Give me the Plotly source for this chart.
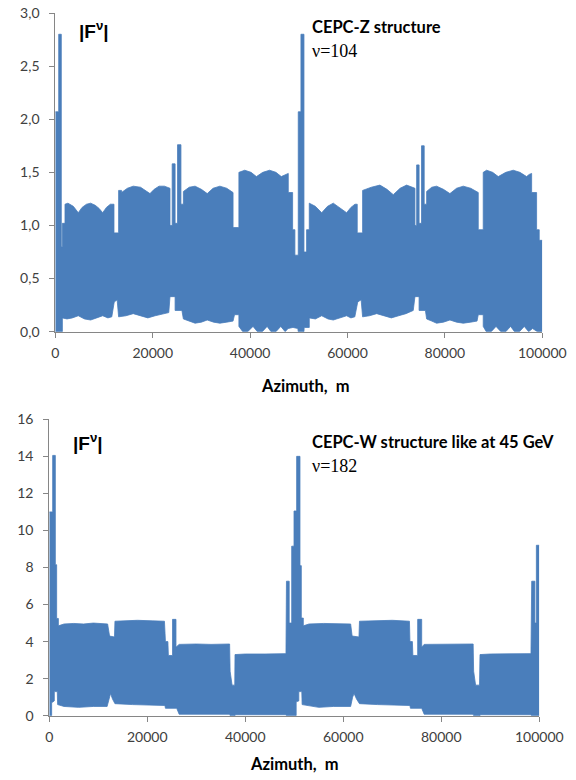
import plotly.graph_objects as go

BLUE = "#4a7ebb"
AXIS = "#868686"

# ---------------- CEPC-Z (top) : envelope of |F^v| ----------------
Z_up_x = [0, 700, 700, 1230, 1230, 1450, 1450, 1990,
          1990, 2600, 3700, 4720, 5500, 6400, 7260, 8200, 9000, 9730, 10500, 11300, 12050,
          12050, 13000,
          13000, 13600, 13600, 14800, 16000, 17500, 18600, 19440, 20300, 21300, 22400, 23550,
          23550, 24000, 24000, 24600, 24600, 25100, 25100, 25800, 25800, 26300,
          26300, 27500, 28700, 30000, 31200, 32400, 33800, 35200, 36500, 36500, 37700,
          37700, 38900, 40200, 41300, 42600, 44000, 45300, 46400, 47200, 47840,
          47840, 48730, 48730, 49200, 49200, 49890, 49890, 50440, 50440, 51060,
          51060, 51600, 51600, 52150,
          52150, 53400, 54700, 55900, 57080, 58400, 59820, 60700, 61530, 62000,
          62000, 63100,
          63100, 64900, 66660, 68100, 69400, 70800, 72140, 73850,
          73850, 74200, 74200, 74700, 74700, 75200, 75200, 75750, 75750, 76250,
          76250, 77300, 78300, 79700, 81030, 82400, 83770, 85300, 86850, 86850, 87870,
          87870, 88570, 89800, 90960, 92500, 94030, 95400, 96780, 97300, 97810,
          97810, 98830, 98830, 99370, 99370, 100000]
Z_up_y = [2.07, 2.07, 2.80, 2.80, 0.80, 0.80, 1.02, 1.02,
          1.20, 1.21, 1.18, 1.12, 1.17, 1.20, 1.21, 1.19, 1.16, 1.12, 1.17, 1.20, 1.20,
          0.93, 0.93,
          1.33, 1.33, 1.31, 1.35, 1.37, 1.36, 1.33, 1.30, 1.34, 1.37, 1.37, 1.35,
          1.00, 1.00, 1.58, 1.58, 1.02, 1.02, 1.76, 1.76, 1.20, 1.20,
          1.32, 1.36, 1.37, 1.34, 1.30, 1.35, 1.37, 1.35, 1.31, 0.98, 0.98,
          1.50, 1.52, 1.50, 1.46, 1.50, 1.52, 1.50, 1.46, 1.48, 1.49,
          1.31, 1.31, 0.96, 0.96, 0.72, 0.72, 2.07, 2.07, 2.80, 2.80,
          0.75, 0.75, 0.96, 0.96,
          1.21, 1.18, 1.12, 1.18, 1.21, 1.17, 1.12, 1.17, 1.20, 1.20,
          0.93, 0.93,
          1.33, 1.36, 1.38, 1.34, 1.29, 1.35, 1.38, 1.35,
          1.00, 1.00, 1.57, 1.57, 1.02, 1.02, 1.75, 1.75, 1.20, 1.20,
          1.32, 1.36, 1.37, 1.34, 1.30, 1.35, 1.37, 1.35, 1.31, 0.96, 0.96,
          1.50, 1.52, 1.50, 1.46, 1.50, 1.52, 1.50, 1.46, 1.48, 1.49,
          1.31, 1.31, 0.96, 0.96, 0.86, 0.86]

Z_lo_x = [0, 1450, 1450, 2400, 3500, 4720, 6000, 7260, 8500, 9730, 10800, 11600, 12100, 12700, 13000,
          14500, 16000, 17500, 19000, 20500, 22000, 23300, 23550, 24600, 24600, 26000, 26300,
          27500, 28700, 30000, 31200, 32500, 33800, 35200, 36500, 36800, 37700, 37700,
          38500, 39500, 40600, 41500, 42500, 43500, 44300, 45300, 46300, 47200, 47800, 48800, 49800,
          49890, 51060, 51100, 52150, 52150,
          53400, 54700, 56000, 57080, 58400, 59820, 60700, 61500, 62100, 62800, 63100,
          64500, 66000, 67500, 69000, 70500, 72000, 73500, 73850, 74700, 74700, 76000, 76250,
          77300, 78300, 79700, 81030, 82400, 83770, 85300, 86600, 86850, 87870, 87870,
          88500, 89500, 90500, 91500, 92500, 93500, 94300, 95300, 96300, 97200, 98000, 99000, 100000]
Z_lo_y = [0.0, 0.0, 0.13, 0.12, 0.13, 0.15, 0.12, 0.11, 0.13, 0.15, 0.13, 0.14, 0.28, 0.30, 0.14,
          0.15, 0.17, 0.15, 0.13, 0.15, 0.17, 0.18, 0.33, 0.33, 0.20, 0.20, 0.12,
          0.10, 0.08, 0.09, 0.11, 0.09, 0.08, 0.09, 0.10, 0.16, 0.16, 0.05,
          0.0, 0.0, 0.05, 0.0, 0.0, 0.05, 0.0, 0.0, 0.05, 0.0, 0.03, 0.04, 0.03,
          0.0, 0.0, 0.04, 0.04, 0.13,
          0.12, 0.15, 0.12, 0.11, 0.13, 0.15, 0.13, 0.14, 0.28, 0.30, 0.14,
          0.15, 0.17, 0.15, 0.13, 0.15, 0.17, 0.20, 0.33, 0.33, 0.20, 0.20, 0.12,
          0.10, 0.08, 0.09, 0.11, 0.09, 0.08, 0.09, 0.10, 0.16, 0.16, 0.05,
          0.0, 0.0, 0.05, 0.0, 0.0, 0.05, 0.0, 0.0, 0.05, 0.0, 0.03, 0.0, 0.0]

# ---------------- CEPC-W (bottom) ----------------
W_up_x = [0, 690, 690, 1230, 1230, 1500, 1500, 1850, 1850,
          3000, 5000, 7000, 9000, 11000, 11900, 12300, 13300, 13400,
          15000, 18000, 21000, 23500, 23700, 24200, 24300, 25150, 25150, 25850, 25850, 26500,
          30000, 33000, 36800, 36900, 37300, 37850, 37900,
          40000, 44000, 48300, 48400, 48960, 48960, 49470, 49470, 49940, 49940, 50480, 50480,
          51160, 51160, 51430, 51430, 51840, 51840,
          53000, 56000, 59000, 61500, 61800, 63200, 63300,
          66000, 70000, 73500, 73600, 74100, 74200, 75180, 75180, 76000, 76000, 76500,
          80000, 83000, 86500, 86600, 87000, 87800, 87900,
          90000, 94000, 98300, 98450, 99100, 99100, 99400, 99400, 100000]
W_up_y = [11.0, 11.0, 14.05, 14.05, 8.15, 8.15, 5.25, 5.25, 4.85,
          4.95, 4.98, 4.95, 5.0, 4.95, 4.95, 4.3, 4.25, 5.1,
          5.12, 5.15, 5.12, 5.1, 4.0, 4.0, 3.25, 3.25, 5.2, 5.2, 3.7, 3.85,
          3.87, 3.85, 3.87, 2.4, 1.65, 1.65, 3.3,
          3.33, 3.33, 3.35, 7.26, 7.26, 5.0, 5.0, 9.15, 9.15, 11.05, 11.05, 14.0,
          14.0, 8.1, 8.1, 5.27, 5.27, 4.85,
          4.95, 4.98, 4.95, 4.95, 4.3, 4.25, 5.1,
          5.12, 5.15, 5.1, 4.0, 4.0, 3.25, 3.25, 5.2, 5.2, 3.7, 3.85,
          3.87, 3.85, 3.87, 2.4, 1.65, 1.65, 3.3,
          3.33, 3.33, 3.35, 7.26, 7.26, 5.0, 5.0, 9.2, 9.2]

W_lo_x = [0, 480, 480, 1020, 1020, 1630, 1700, 3000, 6000, 9000, 11800, 12200, 12500, 12900, 13400,
          17000, 20000, 23600, 23700, 26000, 26500, 36800, 36900, 37900, 38000, 48300, 48400,
          50380, 50380, 50920, 50920, 51530, 51600, 55000, 58000, 61500, 61900, 62200, 62700, 63300,
          67000, 70000, 73600, 73700, 76000, 76500, 86500, 86600, 87900, 88000, 98300, 98400, 100000]
W_lo_y = [0.0, 0.0, 0.7, 0.8, 1.3, 1.3, 0.6, 0.5, 0.45, 0.5, 0.5, 1.0, 1.2, 0.9, 0.65,
          0.6, 0.58, 0.55, 0.4, 0.4, 0.08, 0.08, 0.0, 0.0, 0.05, 0.05, 0.0,
          0.0, 0.75, 0.8, 1.3, 1.3, 0.6, 0.45, 0.5, 0.5, 1.0, 1.2, 0.9, 0.65,
          0.6, 0.58, 0.55, 0.4, 0.4, 0.08, 0.08, 0.0, 0.0, 0.05, 0.05, 0.0, 0.0]

x_ticks = [0, 20000, 40000, 60000, 80000, 100000]

fig = go.Figure()
for lx, ly, ux, uy, xa, ya in [(Z_lo_x, Z_lo_y, Z_up_x, Z_up_y, "x", "y"),
                               (W_lo_x, W_lo_y, W_up_x, W_up_y, "x2", "y2")]:
    fig.add_trace(go.Scatter(x=lx, y=ly, xaxis=xa, yaxis=ya, mode="lines",
                             line=dict(color=BLUE, width=0.8), showlegend=False, hoverinfo="skip"))
    fig.add_trace(go.Scatter(x=ux, y=uy, xaxis=xa, yaxis=ya, mode="lines", fill="tonexty",
                             fillcolor=BLUE, line=dict(color=BLUE, width=0.8),
                             showlegend=False, hoverinfo="skip"))

tick_font = dict(family="Lato", size=14, color="#404040")
common_x = dict(range=[0, 100000], tickvals=x_ticks, tickformat="d", showline=True, linecolor=AXIS,
                linewidth=1, ticks="outside", ticklen=5, tickcolor=AXIS, showgrid=False,
                zeroline=False, tickfont=tick_font, fixedrange=True, automargin=False,
                ticklabelstandoff=3)
common_y = dict(showline=True, linecolor=AXIS, linewidth=1, ticks="outside", ticklen=5,
                tickcolor=AXIS, showgrid=False, zeroline=False, tickfont=tick_font, fixedrange=True,
                automargin=False, ticklabelstandoff=7)

fig.update_layout(
    width=576, height=780, margin=dict(l=0, r=0, t=0, b=0, autoexpand=False),
    paper_bgcolor="white", plot_bgcolor="white", separators=", ",
    xaxis=dict(domain=[55.3 / 576, 542.3 / 576], anchor="y", **common_x),
    yaxis=dict(domain=[1 - 331.7 / 780, 1 - 13 / 780], anchor="x", range=[0, 3], dtick=0.5,
               tickformat=".1f", **common_y),
    xaxis2=dict(domain=[49.3 / 576, 539.3 / 576], anchor="y2", **common_x),
    yaxis2=dict(domain=[1 - 715.7 / 780, 1 - 419.3 / 780], anchor="x2", range=[0, 16], dtick=2,
                tickformat="d", **common_y),
)


def ann(text, px, py, font):
    fig.add_annotation(text=text, x=px / 576, y=1 - py / 780, xref="paper", yref="paper",
                       xanchor="left", yanchor="middle", showarrow=False, font=font)


fz = dict(family="Liberation Sans", size=19, color="black")
ann("<b>|F<sup>ν</sup>|</b>", 77, 30, fz)
ann("<b>|F<sup>ν</sup>|</b>", 71, 442, fz)
fl = dict(family="Lato", size=16.5, color="black")
ann("<b>CEPC-Z structure</b>", 310, 27, fl)
ann("<b>CEPC-W structure like at 45 GeV</b>", 310, 442, fl)
fs = dict(family="Liberation Serif", size=18, color="black")
ann("ν=104", 310, 51, fs)
ann("ν=182", 310, 466, fs)
fa = dict(family="Lato", size=16.5, color="black")
fig.add_annotation(text="<b>Azimuth,  m</b>", x=305 / 576, y=1 - 386 / 780, xref="paper", yref="paper",
                   xanchor="center", yanchor="middle", showarrow=False, font=fa)
fig.add_annotation(text="<b>Azimuth,  m</b>", x=294 / 576, y=1 - 764 / 780, xref="paper", yref="paper",
                   xanchor="center", yanchor="middle", showarrow=False, font=fa)

fig.write_html("out.html")
